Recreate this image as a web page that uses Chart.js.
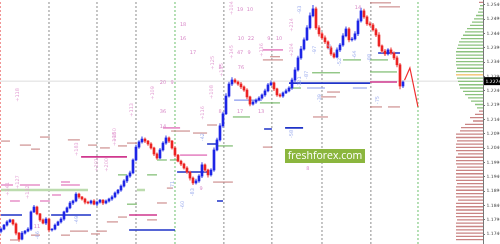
<!DOCTYPE html>
<html>
<head>
<meta charset="utf-8">
<script src="https://cdn.jsdelivr.net/npm/chart.js@4.4.0/dist/chart.umd.min.js"></script>
<style>
  html, body { margin: 0; padding: 0; background: #fff; }
  #wrap { width: 500px; height: 244px; }
</style>
</head>
<body>
<div id="wrap"><canvas id="chart" width="500" height="244"></canvas></div>
<script>
// one candle per bar, left to right (closes), open = previous close
const closes = [
    1.1758, 1.1772, 1.1783, 1.1790, 1.1776, 1.1744, 1.1723, 1.1744, 1.1751, 1.1758,
    1.1818, 1.1835, 1.1811, 1.1790, 1.1779, 1.1793, 1.1755, 1.1758, 1.1772, 1.1783,
    1.1793, 1.1818, 1.1832, 1.1849, 1.1856, 1.1880, 1.1870, 1.1863, 1.1852, 1.1849,
    1.1856, 1.1845, 1.1852, 1.1859, 1.1849, 1.1856, 1.1863, 1.1870, 1.1884, 1.1894,
    1.1908, 1.1926, 1.1943, 1.1954, 1.1999, 1.2044, 1.2062, 1.2072, 1.2065, 1.2055,
    1.2041, 1.2020, 1.2006, 1.2034, 1.2058, 1.2076, 1.2065, 1.2041, 1.2016, 1.1995,
    1.1985, 1.1971, 1.1957, 1.1936, 1.1919, 1.1926, 1.1943, 1.1982, 1.1964, 1.1947,
    1.1964, 1.2034, 1.2069, 1.2118, 1.2160, 1.2222, 1.2264, 1.2278, 1.2271, 1.2264,
    1.2254, 1.2243, 1.2219, 1.2194, 1.2201, 1.2208, 1.2215, 1.2226, 1.2240, 1.2261,
    1.2268, 1.2247, 1.2226, 1.2222, 1.2233, 1.2240, 1.2250, 1.2278, 1.2313, 1.2355,
    1.2386, 1.2418, 1.2460, 1.2502, 1.2526, 1.2460, 1.2439, 1.2425, 1.2411, 1.2390,
    1.2369, 1.2358, 1.2383, 1.2400, 1.2432, 1.2456, 1.2418, 1.2421, 1.2439, 1.2484,
    1.2519, 1.2498, 1.2474, 1.2470, 1.2453, 1.2435, 1.2397, 1.2379, 1.2369, 1.2383,
    1.2372, 1.2355, 1.2331, 1.2257, 1.2271
];
const firstOpen = 1.1750;
// wick lengths in pips above / below the body
const wickUp = [
    4, 3, 5, 3, 2, 4, 3, 6, 3, 5,   4, 6, 3, 2, 4, 5, 3, 2, 4, 3,
    5, 3, 4, 6, 3, 5, 4, 2, 3, 4,   3, 5, 4, 3, 2, 4, 3, 5, 4, 3,
    4, 5, 3, 6, 4, 7, 5, 8, 4, 3,   5, 3, 4, 6, 5, 7, 4, 3, 5, 3,
    4, 3, 5, 3, 4, 6, 5, 8, 4, 3,   5, 7, 6, 8, 6, 9, 7, 8, 5, 4,
    6, 4, 5, 3, 6, 4, 5, 4, 6, 5,   7, 4, 3, 5, 4, 6, 5, 7, 8, 6,
    9, 7, 8, 10, 12, 6, 8, 5, 7, 4, 6, 5, 7, 6, 8, 7, 5, 6, 8, 7,
    10, 6, 5, 7, 6, 5, 8, 4, 6, 5,  7, 4, 6, 5, 4
];
const wickDn = [
    5, 3, 4, 2, 4, 6, 8, 3, 4, 3,   5, 3, 4, 5, 3, 6, 7, 4, 3, 2,
    4, 5, 3, 4, 6, 3, 5, 4, 6, 3,   4, 3, 5, 4, 6, 3, 4, 5, 3, 4,
    5, 4, 6, 5, 4, 3, 5, 4, 6, 5,   4, 6, 5, 3, 4, 5, 6, 4, 5, 3,
    6, 4, 5, 7, 6, 4, 5, 6, 7, 8,   4, 5, 3, 4, 5, 3, 4, 6, 4, 5,
    6, 5, 7, 6, 4, 5, 3, 4, 5, 4,   3, 6, 5, 4, 5, 3, 4, 5, 6, 4,
    5, 4, 3, 5, 4, 6, 8, 5, 6, 4,   5, 4, 3, 6, 5, 4, 7, 5, 4, 6,
    4, 5, 6, 4, 5, 6, 4, 5, 6, 4,   5, 6, 7, 10, 6
];

const yTicks = [1.1740, 1.1790, 1.1840, 1.1890, 1.1940, 1.1990, 1.2040, 1.2090, 1.2140,
                1.2190, 1.2240, 1.2290, 1.2340, 1.2390, 1.2440, 1.2490, 1.2540];
const yMin = 1.1706, yMax = 1.2557;
const xMin = -0.33, xMax = 160.67;
const lastPrice = 1.2274;
const forecast = [[134.5, 1.2277], [136.3, 1.2320], [139, 1.2184]];
const daySeps = [16, 32, 45, 74.3, 90.3, 107, 123.3];
const weekSeps = [58, 139];

// volume profile, one bin per 0.00115 from the top
const profileTop = 1.2549, profileStep = 0.00115;
const profileVol = [
    4, 3, 4, 5, 7, 9, 11, 13, 16, 18, 20, 22, 24, 25, 26, 27, 27, 27, 27, 27,
    26, 27, 27, 26, 25, 24, 23, 20, 18, 15, 12, 8, 6, 4, 8, 13, 10, 18, 22, 23,
    27, 27, 26, 27, 27, 27, 25, 27, 27, 27, 26, 27, 27, 27, 27, 26, 27, 27, 27, 27,
    25, 27, 27, 27, 27, 27, 26, 27, 27, 27, 27, 27, 27
];
const profileGreenFrom = 1, profileGreenTo = 32, profilePoc = 22;

// level segments: [from bar, to bar, price]
const levelsBlue = [[0, 7, 1.1807], [16.7, 30, 1.1807], [42.7, 58, 1.1755], [58.7, 68.7, 1.1957],
    [68.7, 72, 1.2055], [72, 74, 1.1856], [87.7, 90.3, 1.2107], [94.7, 100.7, 1.2111],
    [96, 123, 1.2267], [125.7, 133, 1.2372]];
const levelsLightBlue = [[77.7, 87, 1.2208], [102, 108, 1.2250], [117.3, 122, 1.2250]];
const levelsMagenta = [[26.7, 42, 1.2010], [42.7, 52, 1.1807], [123, 132, 1.2271]];
const levelsGreen = [[39, 42, 1.1947], [42, 45.3, 1.1845], [48.7, 52, 1.1947], [52, 55.3, 1.1999],
    [56.3, 59, 1.1999], [72, 77.3, 1.2048], [77.3, 83, 1.2149], [86.3, 93, 1.2198],
    [96.3, 100, 1.2250], [103.7, 113, 1.2303], [114, 120, 1.2348], [123, 129, 1.2348],
    [123, 132, 1.2306]];
const levelsPaleGreen = [[0, 29, 1.1894], [45.3, 48, 1.1894]];
const levelsBrown = [[0, 3, 1.2065], [6.3, 10, 1.2051], [10, 13, 1.2037], [13, 16.3, 1.2079],
    [22.3, 26.3, 1.2069], [29, 32, 1.2051], [33, 36.3, 1.2041], [39, 42, 1.2048], [42, 45.3, 1.2058],
    [3, 6.3, 1.1720], [10, 13, 1.1737], [20, 23, 1.1737], [23, 29, 1.1751], [30, 33, 1.1741],
    [32, 35.3, 1.1751], [35.3, 39, 1.1783], [39, 42, 1.1800], [48.7, 52, 1.1790], [52, 55.3, 1.1849],
    [55.3, 57.3, 1.1901], [70.7, 77.3, 1.1922], [56.7, 63, 1.2100], [64, 68.7, 1.2093],
    [68.7, 72, 1.2121], [87.3, 90.3, 1.2044], [87.3, 94, 1.2348], [89.7, 93, 1.2359],
    [108.7, 113, 1.2236], [106.7, 111.7, 1.2219], [104, 109, 1.2149], [123, 130, 1.2547],
    [126, 133, 1.2533], [123, 127, 1.2184], [129, 133, 1.2184]];
const levelsPink = [[0, 4, 1.1912], [6.3, 13, 1.1912], [20, 26.3, 1.1912], [20, 23, 1.1922],
    [3, 6.3, 1.1856], [13, 16.3, 1.1856], [17, 20, 1.1877], [54, 59.7, 1.2111],
    [59.7, 68.7, 1.2016], [87.3, 94, 1.2383]];

// small annotations: [text, bar, price]
const notesPinkV = [['+118', 5.7, 1.2226], ['+109', 50.7, 1.2233], ['+113', 43.7, 1.2174],
    ['+150', 38, 1.2086], ['+104', 77, 1.2529], ['+145', 77, 1.2376], ['+125', 70.7, 1.2338],
    ['+116', 67.3, 1.2163], ['+108', 70.3, 1.2236], ['+214', 97, 1.2470], ['+204', 97, 1.2383],
    ['+136', 87, 1.2383], ['+141', 2.3, 1.1898], ['+127', 5.7, 1.1922], ['+132', 9, 1.1887],
    ['+198', 38, 1.2072], ['+183', 25.3, 1.2037], ['+201', 32, 1.1982], ['+200', 35.3, 1.1982],
    ['+135', 73.7, 1.2313]];
const notesBlueV = [['-93', 99.7, 1.2523], ['-87', 102, 1.2296], ['-121', 99.7, 1.2271],
    ['-46', 109.7, 1.2390], ['-88', 123, 1.2355], ['-52', 113, 1.2341], ['-75', 125.7, 1.2208],
    ['-83', 64, 1.1887], ['-60', 60.7, 1.1842], ['-71', 57.3, 1.1912], ['-42', 67.3, 1.2079],
    ['-58', 97, 1.2090], ['-66', 12.3, 1.1737], ['-49', 25.3, 1.1790], ['-97', 104.7, 1.2383],
    ['-64', 118, 1.2366], ['-39', 106.3, 1.2215]];
const notesPink = [['18', 60.7, 1.2470], ['16', 60.7, 1.2421], ['17', 64, 1.2372], ['19', 79.7, 1.2523],
    ['10', 83, 1.2523], ['10', 80, 1.2421], ['22', 83.3, 1.2421], ['47', 79.7, 1.2372],
    ['9', 82.7, 1.2372], ['9', 89.3, 1.2421], ['10', 92.7, 1.2421], ['8', 73, 1.2320],
    ['76', 80, 1.2320], ['20', 54, 1.2268], ['9', 57, 1.2268], ['8', 73, 1.2167],
    ['17', 79.7, 1.2167], ['13', 86.7, 1.2167], ['36', 54, 1.2167], ['14', 54, 1.2114],
    ['14', 119, 1.2529], ['8', 102.3, 1.1968], ['9', 66.7, 1.1898], ['11', 12, 1.1765]];

const PIP = 0.0001;
const opens = closes.map((c, i) => i ? closes[i - 1] : firstOpen);
const isUp = i => closes[i] >= opens[i];

function segments(list) {
    return list.flatMap(([a, b, p]) => [{ x: a, y: p }, { x: b, y: p }, { x: b, y: null }]);
}
function verticals(list) {
    return list.flatMap(v => [{ x: v, y: yMin }, { x: v, y: yMax }, { x: v, y: null }]);
}
function lineSet(data, color, width, extra) {
    return Object.assign({
        type: 'line', data, borderColor: color, borderWidth: width,
        pointRadius: 0, spanGaps: false, fill: false, tension: 0, order: 5
    }, extra || {});
}

const profileBins = profileVol.map((v, i) => ({ i, v, p: profileTop - i * profileStep }));
function profileSet(filter, color) {
    const pts = profileBins.filter(filter)
        .flatMap(b => [{ x: 0, y: b.p }, { x: b.v, y: b.p }, { x: b.v, y: null }]);
    return lineSet(pts, color, 1.3, { xAxisID: 'xv', order: 6 });
}

const datasets = [
    {
        type: 'bar', grouped: false, order: 1, barThickness: 2,
        data: closes.map((c, i) => ({ x: i, y: [opens[i], c] })),
        backgroundColor: closes.map((c, i) => isUp(i) ? '#1d25e6' : '#ec2323')
    },
    {
        type: 'bar', grouped: false, order: 2, barThickness: 1,
        data: closes.map((c, i) => ({
            x: i,
            y: [Math.min(opens[i], c) - wickDn[i] * PIP, Math.max(opens[i], c) + wickUp[i] * PIP]
        })),
        backgroundColor: closes.map((c, i) => isUp(i) ? '#8088f2' : '#f28484')
    },
    lineSet(forecast.map(([x, y]) => ({ x, y })), '#f03030', 1.2, { order: 0 }),
    lineSet(segments(levelsPaleGreen), '#bcdcae', 2.5, { order: 7 }),
    lineSet(segments(levelsBrown), '#c47a7a', 1),
    lineSet(segments(levelsPink), '#e891c9', 1.6),
    lineSet(segments(levelsGreen), '#62ae52', 1),
    lineSet(segments(levelsLightBlue), '#8898ee', 1.2),
    lineSet(segments(levelsMagenta), '#d0388e', 1.6),
    lineSet(segments(levelsBlue), '#1f33c8', 1.6, { order: 4 }),
    lineSet(segments([[xMin, xMax, lastPrice]]), '#dddddd', 1, { order: 9 }),
    lineSet(verticals(daySeps), '#8c8c8c', 1, { borderDash: [2, 2], order: 8 }),
    lineSet(verticals(weekSeps), '#6cc06c', 1, { borderDash: [2, 2], order: 8 }),
    lineSet(verticals([-0.2]), '#f08a8a', 1, { borderDash: [2, 2], order: 8 }),
    profileSet(b => b.i >= profileGreenFrom && b.i <= profileGreenTo && b.i !== profilePoc, '#8cc27e'),
    profileSet(b => b.i < profileGreenFrom || b.i > profileGreenTo, '#c98484'),
    profileSet(b => b.i === profilePoc, '#f1c064')
];

const overlay = {
    id: 'overlay',
    beforeDraw(chart) {
        const { ctx } = chart;
        ctx.save();
        ctx.fillStyle = '#fff';
        ctx.fillRect(0, 0, chart.width, chart.height);
        ctx.restore();
    },
    afterDatasetsDraw(chart) {
        const { ctx, chartArea } = chart;
        const x = chart.scales.x, y = chart.scales.y;
        ctx.save();
        ctx.font = '5px "DejaVu Sans"';
        ctx.textAlign = 'center';
        ctx.textBaseline = 'middle';
        const vertical = (list, color) => {
            ctx.fillStyle = color;
            list.forEach(([t, i, p]) => {
                ctx.save();
                ctx.translate(x.getPixelForValue(i), y.getPixelForValue(p));
                ctx.rotate(-Math.PI / 2);
                ctx.fillText(t, 0, 0);
                ctx.restore();
            });
        };
        vertical(notesPinkV, '#e4a2d4');
        vertical(notesBlueV, '#9eaeee');
        ctx.fillStyle = '#d98cc9';
        notesPink.forEach(([t, i, p]) => ctx.fillText(t, x.getPixelForValue(i), y.getPixelForValue(p)));

        // watermark
        const wx = chartArea.left + 285, wy = chartArea.top + 149;
        ctx.fillStyle = '#8bb63e';
        ctx.fillRect(wx, wy, 80, 14);
        ctx.fillStyle = '#ffffff';
        ctx.font = '10.5px "Open Sans"';
        ctx.fillText('freshforex.com', wx + 40, wy + 7.5);
        ctx.restore();
    },
    afterDraw(chart) {
        const { ctx, chartArea } = chart;
        const py = chart.scales.y.getPixelForValue(lastPrice);
        ctx.save();
        ctx.fillStyle = '#000';
        ctx.fillRect(chartArea.right + 1, py - 4, chart.width - chartArea.right - 1, 8);
        ctx.fillStyle = '#fff';
        ctx.font = '4.5px "DejaVu Sans"';
        ctx.textBaseline = 'middle';
        ctx.fillText(lastPrice.toFixed(4), chartArea.right + 2.5, py + 0.5);
        ctx.restore();
    }
};

new Chart(document.getElementById('chart'), {
    type: 'bar',
    data: { datasets },
    options: {
        responsive: false,
        animation: false,
        devicePixelRatio: 1,
        layout: { padding: 0 },
        plugins: { legend: { display: false }, tooltip: { enabled: false } },
        scales: {
            x: { type: 'linear', min: xMin, max: xMax, offset: false, display: false },
            xv: { type: 'linear', min: 0, max: 483, reverse: true, offset: false, display: false },
            y: {
                position: 'right',
                min: yMin,
                max: yMax,
                afterBuildTicks: s => { s.ticks = yTicks.map(v => ({ value: v })); },
                afterFit: s => { s.width = 17; s.paddingTop = 0; s.paddingBottom = 0; },
                ticks: {
                    autoSkip: false,
                    padding: 1.5,
                    color: '#444',
                    font: { size: 4.5, family: 'DejaVu Sans' },
                    callback: v => v.toFixed(4)
                },
                grid: { drawOnChartArea: false, tickLength: 2, color: '#777' },
                border: { color: '#777' }
            }
        }
    },
    plugins: [overlay]
});
</script>
</body>
</html>
